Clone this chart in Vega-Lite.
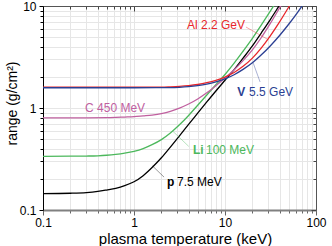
{
  "$schema": "https://vega.github.io/schema/vega-lite/v6.json",
  "width": 273,
  "height": 204,
  "autosize": "none",
  "padding": {"left": 43, "top": 6, "right": 16, "bottom": 36},
  "background": "white",
  "config": {
    "font": "Liberation Sans",
    "view": {"stroke": null},
    "axis": {"labelFont": "Liberation Sans", "titleFont": "Liberation Sans"}
  },
  "datasets": {
    "curves": [
      {"s": "p", "T": 0.1, "R": 0.145}, {"s": "p", "T": 0.2, "R": 0.146}, {"s": "p", "T": 0.3, "R": 0.148}, {"s": "p", "T": 0.4, "R": 0.152}, {"s": "p", "T": 0.5, "R": 0.157}, {"s": "p", "T": 0.63, "R": 0.163}, {"s": "p", "T": 0.79, "R": 0.173}, {"s": "p", "T": 1, "R": 0.189}, {"s": "p", "T": 1.26, "R": 0.217}, {"s": "p", "T": 1.58, "R": 0.261}, {"s": "p", "T": 2, "R": 0.325}, {"s": "p", "T": 2.51, "R": 0.414}, {"s": "p", "T": 3.16, "R": 0.533}, {"s": "p", "T": 3.98, "R": 0.69}, {"s": "p", "T": 5.01, "R": 0.889}, {"s": "p", "T": 6.31, "R": 1.146}, {"s": "p", "T": 7.94, "R": 1.469}, {"s": "p", "T": 10, "R": 1.87}, {"s": "p", "T": 12.6, "R": 2.38}, {"s": "p", "T": 15.8, "R": 3.08}, {"s": "p", "T": 20, "R": 4.06}, {"s": "p", "T": 25.1, "R": 5.46}, {"s": "p", "T": 31.6, "R": 7.41}, {"s": "p", "T": 39.8, "R": 10.2}, {"s": "p", "T": 50.1, "R": 14},
      {"s": "Li", "T": 0.1, "R": 0.336}, {"s": "Li", "T": 0.2, "R": 0.337}, {"s": "Li", "T": 0.3, "R": 0.338}, {"s": "Li", "T": 0.4, "R": 0.34}, {"s": "Li", "T": 0.5, "R": 0.344}, {"s": "Li", "T": 0.63, "R": 0.351}, {"s": "Li", "T": 0.79, "R": 0.361}, {"s": "Li", "T": 1, "R": 0.376}, {"s": "Li", "T": 1.26, "R": 0.4}, {"s": "Li", "T": 1.58, "R": 0.437}, {"s": "Li", "T": 2, "R": 0.49}, {"s": "Li", "T": 2.51, "R": 0.569}, {"s": "Li", "T": 3.16, "R": 0.684}, {"s": "Li", "T": 3.98, "R": 0.845}, {"s": "Li", "T": 5.01, "R": 1.064}, {"s": "Li", "T": 6.31, "R": 1.34}, {"s": "Li", "T": 7.94, "R": 1.69}, {"s": "Li", "T": 10, "R": 2.13}, {"s": "Li", "T": 12.6, "R": 2.75}, {"s": "Li", "T": 15.8, "R": 3.6}, {"s": "Li", "T": 20, "R": 4.81}, {"s": "Li", "T": 25.1, "R": 6.52}, {"s": "Li", "T": 31.6, "R": 8.95}, {"s": "Li", "T": 39.8, "R": 12.4},
      {"s": "C", "T": 0.1, "R": 0.8}, {"s": "C", "T": 0.2, "R": 0.8}, {"s": "C", "T": 0.3, "R": 0.801}, {"s": "C", "T": 0.5, "R": 0.805}, {"s": "C", "T": 0.63, "R": 0.809}, {"s": "C", "T": 0.79, "R": 0.815}, {"s": "C", "T": 1, "R": 0.822}, {"s": "C", "T": 1.26, "R": 0.837}, {"s": "C", "T": 1.58, "R": 0.853}, {"s": "C", "T": 2, "R": 0.881}, {"s": "C", "T": 2.51, "R": 0.927}, {"s": "C", "T": 3.16, "R": 0.998}, {"s": "C", "T": 3.98, "R": 1.094}, {"s": "C", "T": 5.01, "R": 1.227}, {"s": "C", "T": 6.31, "R": 1.41}, {"s": "C", "T": 7.94, "R": 1.656}, {"s": "C", "T": 10, "R": 1.97}, {"s": "C", "T": 12.6, "R": 2.37}, {"s": "C", "T": 15.8, "R": 2.91}, {"s": "C", "T": 20, "R": 3.71}, {"s": "C", "T": 25.1, "R": 4.91}, {"s": "C", "T": 31.6, "R": 6.78}, {"s": "C", "T": 39.8, "R": 9.57}, {"s": "C", "T": 50.1, "R": 13.5},
      {"s": "Al", "T": 0.1, "R": 1.6}, {"s": "Al", "T": 1, "R": 1.6}, {"s": "Al", "T": 2, "R": 1.603}, {"s": "Al", "T": 2.51, "R": 1.614}, {"s": "Al", "T": 3.16, "R": 1.63}, {"s": "Al", "T": 3.98, "R": 1.656}, {"s": "Al", "T": 5.01, "R": 1.7}, {"s": "Al", "T": 6.31, "R": 1.77}, {"s": "Al", "T": 7.94, "R": 1.87}, {"s": "Al", "T": 10, "R": 2.01}, {"s": "Al", "T": 12.6, "R": 2.23}, {"s": "Al", "T": 15.8, "R": 2.56}, {"s": "Al", "T": 20, "R": 3.08}, {"s": "Al", "T": 25.1, "R": 3.88}, {"s": "Al", "T": 31.6, "R": 5.12}, {"s": "Al", "T": 39.8, "R": 6.98}, {"s": "Al", "T": 50.1, "R": 9.75}, {"s": "Al", "T": 63.1, "R": 13.8},
      {"s": "V", "T": 0.1, "R": 1.58}, {"s": "V", "T": 1, "R": 1.58}, {"s": "V", "T": 2.51, "R": 1.585}, {"s": "V", "T": 3.16, "R": 1.596}, {"s": "V", "T": 3.98, "R": 1.618}, {"s": "V", "T": 5.01, "R": 1.656}, {"s": "V", "T": 6.31, "R": 1.714}, {"s": "V", "T": 7.94, "R": 1.803}, {"s": "V", "T": 10, "R": 1.93}, {"s": "V", "T": 12.6, "R": 2.12}, {"s": "V", "T": 15.8, "R": 2.39}, {"s": "V", "T": 20, "R": 2.77}, {"s": "V", "T": 25.1, "R": 3.32}, {"s": "V", "T": 31.6, "R": 4.08}, {"s": "V", "T": 39.8, "R": 5.14}, {"s": "V", "T": 50.1, "R": 6.62}, {"s": "V", "T": 63.1, "R": 8.73}, {"s": "V", "T": 79.4, "R": 11.7}
    ],
    "pointers": [
      {"s": "Al", "T": 17.0, "R": 6.22, "T2": 29, "R2": 4.75},
      {"s": "V", "T": 20.3, "R": 2.8, "T2": 24.3, "R2": 1.8},
      {"s": "Li", "T": 2.68, "R": 0.59, "T2": 4.0, "R2": 0.42},
      {"s": "p", "T": 1.6, "R": 0.27, "T2": 2.14, "R2": 0.21}
    ],
    "labels": [
      {"s": "Al", "T": 3.82, "R": 6.5, "txt": "Al 2.2 GeV"},
      {"s": "C", "T": 0.29, "R": 1.0, "txt": "C 450 MeV"},
      {"s": "V", "T": 18.4, "R": 1.43, "txt": "5.5 GeV"},
      {"s": "Li", "T": 6.18, "R": 0.387, "txt": "100 MeV"},
      {"s": "p", "T": 2.97, "R": 0.188, "txt": "7.5 MeV"}
    ],
    "boldlabels": [
      {"s": "V", "T": 13.6, "R": 1.43, "txt": "V"},
      {"s": "Li", "T": 4.45, "R": 0.387, "txt": "Li"},
      {"s": "p", "T": 2.31, "R": 0.188, "txt": "p"}
    ]
  },
  "resolve": {"axis": {"x": "independent", "y": "independent"}},
  "layer": [
    {
      "data": {"name": "curves"},
      "mark": {"type": "line", "clip": true, "strokeWidth": 1.3, "interpolate": "monotone"},
      "encoding": {
        "x": {"field": "T", "type": "quantitative",
          "scale": {"type": "log", "domain": [0.1, 100]},
          "axis": {"orient": "bottom", "title": "plasma temperature (keV)",
            "values": [0.1,0.2,0.3,0.4,0.5,0.6,0.7,0.8,0.9,1,2,3,4,5,6,7,8,9,10,20,30,40,50,60,70,80,90,100],
            "format": "~g",
            "labelExpr": "indexof([0.1,1,10,100], datum.value) >= 0 ? datum.label : ''",
            "labelOverlap": false, "labelFlush": false, "labelFontSize": 12, "labelColor": "#000", "labelPadding": 2,
            "tickSize": {"condition": {"test": "indexof([0.1,1,10,100], datum.value) >= 0", "value": 5}, "value": 3},
            "tickColor": "#666", "domainColor": "#808080", "domainWidth": 2,
            "grid": true, "gridColor": "#e6e6e6", "gridWidth": 1,
            "titleFontSize": 15, "titleFontWeight": "normal", "titleColor": "#000",
            "titleX": 142, "titleY": 28, "titleBaseline": "middle", "titleAnchor": "middle"}},
        "y": {"field": "R", "type": "quantitative",
          "scale": {"type": "log", "domain": [0.1, 10]},
          "axis": {"orient": "left", "title": "range (g/cm²)",
            "values": [0.1,0.2,0.3,0.4,0.5,0.6,0.7,0.8,0.9,1,2,3,4,5,6,7,8,9,10],
            "format": "~g",
            "labelExpr": "indexof([0.1,1,10], datum.value) >= 0 ? datum.label : ''",
            "labelOverlap": false, "labelFlush": false, "labelFontSize": 12, "labelColor": "#000", "labelPadding": 3,
            "tickSize": {"condition": {"test": "indexof([0.1,1,10], datum.value) >= 0", "value": 4}, "value": 3},
            "tickColor": "#000", "domainColor": "#000", "domainWidth": 1,
            "grid": true, "gridColor": "#e6e6e6", "gridWidth": 1,
            "titleFontSize": 14, "titleFontWeight": "normal", "titleColor": "#000",
            "titleX": -31, "titleY": 97, "titleBaseline": "middle", "titleAnchor": "middle"}},
        "color": {"field": "s", "type": "nominal",
          "scale": {"domain": ["p", "Li", "C", "Al", "V"], "range": ["#000000", "#4cb85c", "#c0609f", "#e8262b", "#2b3f93"]},
          "legend": null}
      }
    },
    {
      "data": {"name": "pointers"},
      "mark": {"type": "rule", "strokeWidth": 0.8, "opacity": 0.5},
      "encoding": {
        "x": {"field": "T", "type": "quantitative", "scale": {"type": "log", "domain": [0.1, 100]},
          "axis": {"orient": "top", "title": null, "labels": false, "grid": false,
            "values": [0.1,0.2,0.3,0.4,0.5,0.6,0.7,0.8,0.9,1,2,3,4,5,6,7,8,9,10,20,30,40,50,60,70,80,90,100],
            "tickSize": {"condition": {"test": "indexof([0.1,1,10,100], datum.value) >= 0", "value": -5}, "value": -3},
            "tickColor": "#444", "domainColor": "#555", "domainWidth": 1}},
        "y": {"field": "R", "type": "quantitative", "scale": {"type": "log", "domain": [0.1, 10]},
          "axis": {"orient": "right", "title": null, "labels": false, "grid": false,
            "values": [0.1,0.2,0.3,0.4,0.5,0.6,0.7,0.8,0.9,1,2,3,4,5,6,7,8,9,10],
            "tickSize": {"condition": {"test": "indexof([0.1,1,10], datum.value) >= 0", "value": -5}, "value": -3},
            "tickColor": "#444", "domainColor": "#555", "domainWidth": 1}},
        "x2": {"field": "T2"},
        "y2": {"field": "R2"},
        "color": {"field": "s", "type": "nominal", "legend": null}
      }
    },
    {
      "data": {"name": "labels"},
      "mark": {"type": "text", "align": "left", "baseline": "middle", "fontSize": 12},
      "encoding": {
        "x": {"field": "T", "type": "quantitative", "axis": null},
        "y": {"field": "R", "type": "quantitative", "axis": null},
        "text": {"field": "txt"},
        "color": {"field": "s", "type": "nominal", "legend": null}
      }
    },
    {
      "data": {"name": "boldlabels"},
      "mark": {"type": "text", "align": "left", "baseline": "middle", "fontSize": 12, "fontWeight": "bold"},
      "encoding": {
        "x": {"field": "T", "type": "quantitative", "axis": null},
        "y": {"field": "R", "type": "quantitative", "axis": null},
        "text": {"field": "txt"},
        "color": {"field": "s", "type": "nominal", "legend": null}
      }
    }
  ]
}
